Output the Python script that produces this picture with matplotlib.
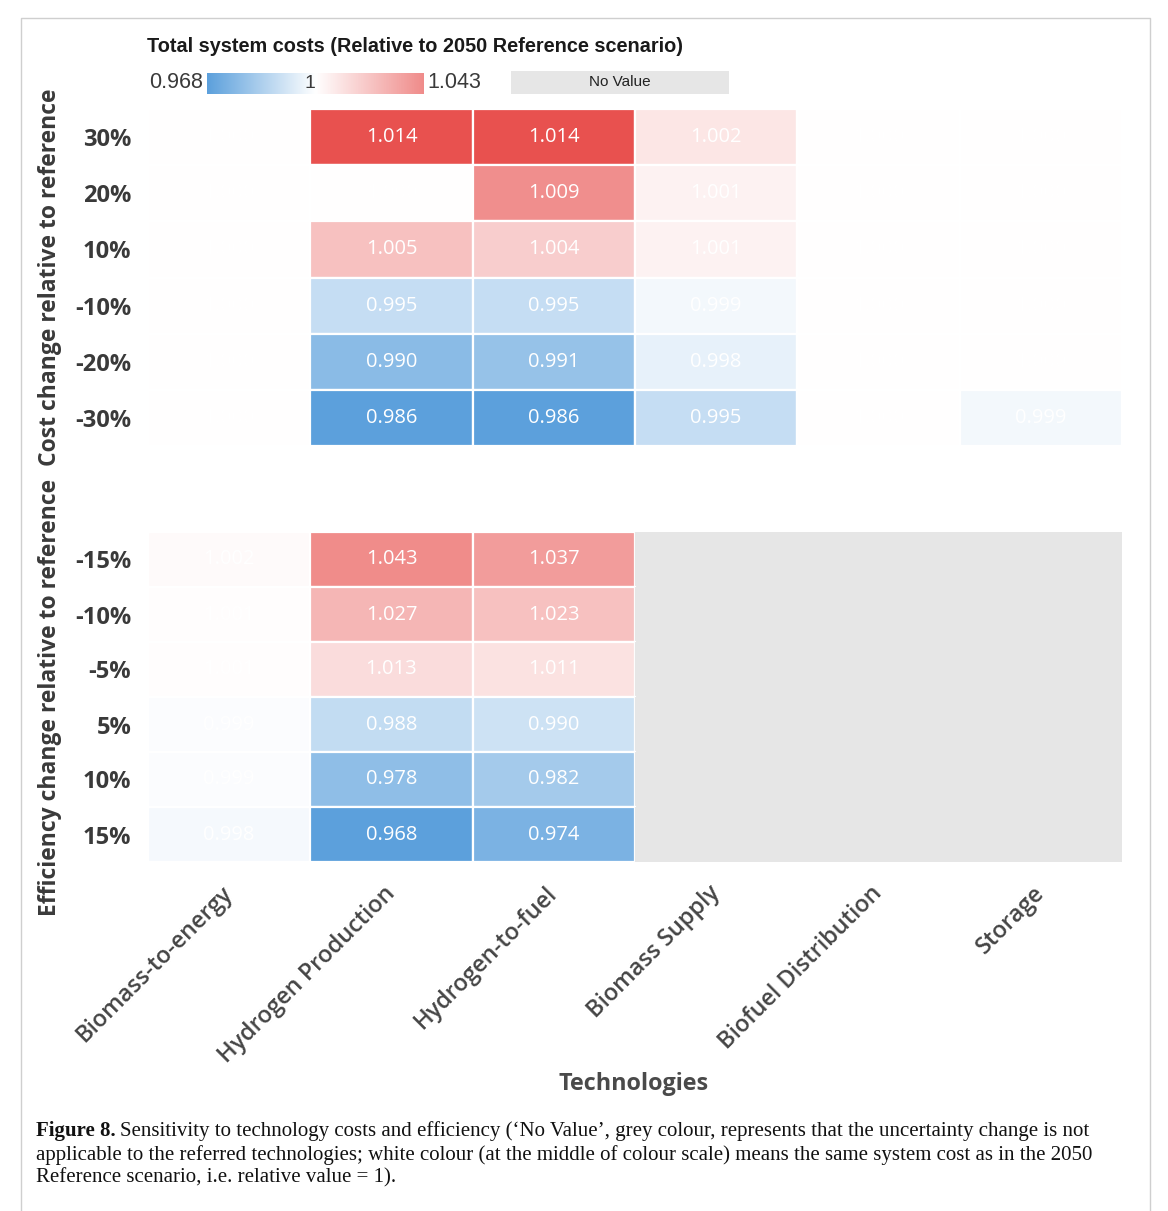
import numpy as np
import matplotlib
matplotlib.use("Agg")
import matplotlib.pyplot as plt
from matplotlib.colors import LinearSegmentedColormap, TwoSlopeNorm
from matplotlib.patches import Rectangle

# ---- data -------------------------------------------------------------
technologies = ["Biomass-to-energy", "Hydrogen Production", "Hydrogen-to-fuel",
                "Biomass Supply", "Biofuel Distribution", "Storage"]

cost_rows = ["30%", "20%", "10%", "-10%", "-20%", "-30%"]
eff_rows = ["-15%", "-10%", "-5%", "5%", "10%", "15%"]

# total system cost relative to the 2050 reference, cost sensitivity
cost_biomass_to_energy = [1.000, 1.000, 1.000, 1.000, 1.000, 1.000]
cost_hydrogen_prod = [1.014, 1.000, 1.005, 0.995, 0.990, 0.986]
cost_hydrogen_to_fuel = [1.014, 1.009, 1.004, 0.995, 0.991, 0.986]
cost_biomass_supply = [1.002, 1.001, 1.001, 0.999, 0.998, 0.995]
cost_biofuel_dist = [1.000, 1.000, 1.000, 1.000, 1.000, 1.000]
cost_storage = [1.000, 1.000, 1.000, 1.000, 1.000, 0.999]

# efficiency sensitivity (NaN = not applicable)
eff_biomass_to_energy = [1.002, 1.001, 1.001, 0.999, 0.999, 0.998]
eff_hydrogen_prod = [1.043, 1.027, 1.013, 0.988, 0.978, 0.968]
eff_hydrogen_to_fuel = [1.037, 1.023, 1.011, 0.990, 0.982, 0.974]
eff_biomass_supply = [np.nan] * 6
eff_biofuel_dist = [np.nan] * 6
eff_storage = [np.nan] * 6

cost_matrix = np.column_stack([cost_biomass_to_energy, cost_hydrogen_prod,
                               cost_hydrogen_to_fuel, cost_biomass_supply,
                               cost_biofuel_dist, cost_storage])
eff_matrix = np.column_stack([eff_biomass_to_energy, eff_hydrogen_prod,
                              eff_hydrogen_to_fuel, eff_biomass_supply,
                              eff_biofuel_dist, eff_storage])

legend_min, legend_mid, legend_max = 0.968, 1.0, 1.043

# ---- styling ----------------------------------------------------------
plt.rcParams["font.family"] = ["Open Sans", "DejaVu Sans"]
cmap = LinearSegmentedColormap.from_list("bwr_soft", ["#5ca0dc", "#ffffff", "#e8514f"])
norm_cost = TwoSlopeNorm(vmin=0.986, vcenter=1.0, vmax=1.014)
norm_eff = TwoSlopeNorm(vmin=0.968, vcenter=1.0, vmax=1.065)
NA_GREY = "#e6e6e6"
TEXT_DARK = "#3a3a3a"

W, H, DPI = 1168, 1211, 100
fig = plt.figure(figsize=(W / DPI, H / DPI), dpi=DPI)


def fx(px):
    return px / W


def fy(py):
    return 1 - py / H


def add_px_axes(left, top, right, bottom, **kw):
    return fig.add_axes([fx(left), fy(bottom), fx(right - left), (bottom - top) / H], **kw)


# outer frame of the figure panel
frame = fig.add_axes([0, 0, 1, 1], zorder=-5)
frame.set_xlim(0, W)
frame.set_ylim(H, 0)
frame.axis("off")
frame.plot([21, 21, 1150, 1150], [1211, 18, 18, 1211], color="#cfcfcf", lw=1.0)

# ---- heatmap blocks -----------------------------------------------------
ax_cost = add_px_axes(148, 109, 1122, 446)
ax_eff = add_px_axes(148, 532, 1122, 862)


def draw_block(ax, matrix, row_labels, norm):
    nr, nc = matrix.shape
    ax.set_xlim(0, nc)
    ax.set_ylim(nr, 0)
    for s in ax.spines.values():
        s.set_visible(False)
    for i in range(nr):
        for j in range(nc):
            v = matrix[i, j]
            if np.isnan(v):
                ax.add_patch(Rectangle((j, i), 1, 1, facecolor=NA_GREY,
                                       edgecolor=NA_GREY, lw=0.8))
                continue
            ax.add_patch(Rectangle((j, i), 1, 1, facecolor=cmap(norm(v)),
                                   edgecolor="white", lw=1.6))
            ax.text(j + 0.5, i + 0.5, f"{v:.3f}", color="white",
                    ha="center", va="center", fontsize=14.5)
    ax.set_yticks([i + 0.5 for i in range(nr)])
    ax.set_yticklabels(row_labels, fontsize=17, fontweight="bold", color=TEXT_DARK)
    ax.tick_params(axis="y", length=0, pad=12)


draw_block(ax_cost, cost_matrix, cost_rows, norm_cost)
draw_block(ax_eff, eff_matrix, eff_rows, norm_eff)

ax_cost.set_xticks([])
ax_eff.set_xticks([j + 0.5 for j in range(len(technologies))])
ax_eff.set_xticklabels(technologies, rotation=45, ha="right", va="center",
                       rotation_mode="anchor", fontsize=16.8, fontweight="semibold",
                       color="#454545")
ax_eff.tick_params(axis="x", length=0, pad=20)

# block titles on the left
fig.text(fx(50), fy(277), "Cost change relative to reference", rotation=90,
         ha="center", va="center", fontsize=16.5, fontweight="bold", color=TEXT_DARK)
fig.text(fx(50), fy(697), "Efficiency change relative to reference", rotation=90,
         ha="center", va="center", fontsize=16.5, fontweight="bold", color=TEXT_DARK)
fig.text(fx(634), fy(1084), "Technologies", ha="center", va="center",
         fontsize=16.8, fontweight="bold", color="#4a4a4a")

# ---- legend -------------------------------------------------------------
fig.text(fx(147), fy(46), "Total system costs (Relative to 2050 Reference scenario)",
         ha="left", va="center", fontsize=14.3, fontweight="bold",
         family="Liberation Sans", color="#1a1a1a")

cb = add_px_axes(207, 73, 423, 94)
grad = np.concatenate([np.linspace(legend_min, legend_mid, 128),
                       np.linspace(legend_mid, legend_max, 128)])
cb.imshow(norm_eff(grad)[np.newaxis, :], cmap=cmap, vmin=0, vmax=1,
          aspect="auto", extent=(0, 1, 0, 1))
cb.axis("off")
cb.text(0.475, 0.5, f"{legend_mid:g}", ha="center", va="center", fontsize=14,
        family="Liberation Sans", color=TEXT_DARK)
fig.text(fx(203), fy(83), f"{legend_min:.3f}", ha="right", va="center",
         fontsize=15.5, family="Liberation Sans", color=TEXT_DARK)
fig.text(fx(427), fy(83), f"{legend_max:.3f}", ha="left", va="center",
         fontsize=15.5, family="Liberation Sans", color=TEXT_DARK)

nv = add_px_axes(511, 71, 729, 94)
nv.set_facecolor(NA_GREY)
nv.set_xticks([])
nv.set_yticks([])
for s in nv.spines.values():
    s.set_visible(False)
nv.text(0.5, 0.5, "No Value", ha="center", va="center", fontsize=11,
        family="Liberation Sans", color="#222222", transform=nv.transAxes)

# ---- caption --------------------------------------------------------------
cap_font = dict(family="Liberation Serif", fontsize=15, color="#111111")
renderer = fig.canvas.get_renderer()
t0 = fig.text(fx(36), fy(1131), "Figure 8.", ha="left", va="center",
              fontweight="bold", **cap_font)
bb = t0.get_window_extent(renderer=renderer)
fig.text(bb.x1 / W + fx(4), fy(1131),
         "Sensitivity to technology costs and efficiency (\u2018No Value\u2019, grey colour, "
         "represents that the uncertainty change is not",
         ha="left", va="center", **cap_font)
fig.text(fx(36), fy(1155),
         "applicable to the referred technologies; white colour (at the middle of colour "
         "scale) means the same system cost as in the 2050",
         ha="left", va="center", **cap_font)
fig.text(fx(36), fy(1178), "Reference scenario, i.e. relative value = 1).",
         ha="left", va="center", **cap_font)

fig.savefig("out.png", dpi=DPI)
